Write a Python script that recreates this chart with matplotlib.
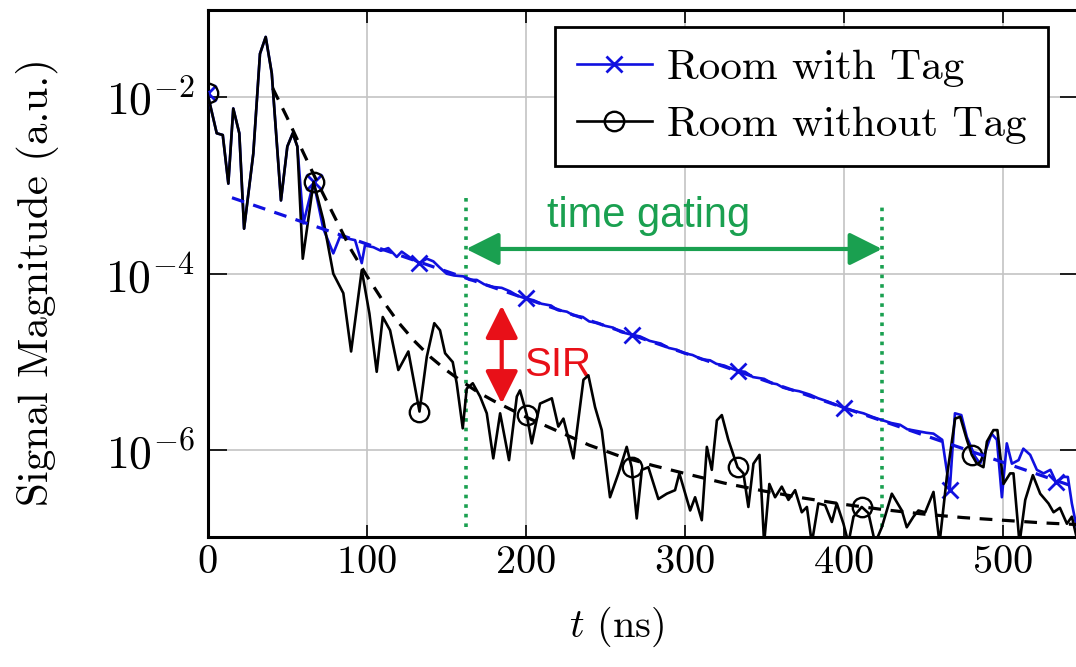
import numpy as np
import matplotlib
matplotlib.use('Agg')
import matplotlib.pyplot as plt
from matplotlib.ticker import FixedLocator, FuncFormatter, NullLocator
from matplotlib.patches import ArrowStyle

plt.rcParams['mathtext.fontset'] = 'cm'
plt.rcParams['font.family'] = ['cmr10', 'DejaVu Serif']
plt.rcParams['axes.formatter.use_mathtext'] = True

# ---------------- data (log10 of signal magnitude) ----------------
t_without = [0, 5.8, 9.6, 13.1, 16.2, 20, 23, 28.8, 33, 36.6, 40.4, 46.2, 50.2, 53.6, 56.5, 59.9,
             66.7, 72.8, 79.1, 85.4, 90.3, 97, 101.8, 106.4, 110.2, 114.8, 120, 126.3, 133.3,
             137.9, 142.6, 146.2, 149.4, 154.2, 156.7, 160.5, 163, 166.8, 171.4, 175.6, 179.7,
             184, 189.6, 194.5, 196.5, 200.8, 203.9, 209.1, 216.5, 220.6, 223.8, 230.1, 236.4,
             239.5, 243.7, 247.9, 253.1, 258.4, 263.6, 266.7, 269.9, 273.1, 277.2, 283.5, 288.8,
             294, 296.7, 303.5, 306.6, 310.8, 314, 317.1, 320.3, 323.4, 327.5, 333.3, 337, 340.1,
             343.3, 347.1, 350, 353.3, 356.9, 361.1, 365.3, 369.5, 373.7, 376.9, 380, 384.1,
             388.4, 392.6, 395.7, 399.9, 403, 406.2, 411.4, 415.6, 419.8, 424, 430.3, 436.6,
             439.7, 443.9, 447, 451.3, 456.5, 460.3, 464.9, 470.1, 473.3, 477.5, 480.6, 483.8,
             487.9, 490.1, 494.2, 496.7, 500.5, 504.7, 506.8, 510.6, 514.2, 519, 523.6, 528.8,
             532, 536, 540.4, 543.5, 548]
log_without = [-1.96, -2.41, -2.43, -2.98, -2.13, -2.41, -3.49, -2.64, -1.51, -1.32, -1.73, -3.17,
               -2.56, -2.41, -2.56, -3.83, -2.96, -3.39, -4.00, -4.22, -4.88, -3.96, -4.45, -5.11,
               -4.49, -4.64, -5.09, -4.88, -5.56, -4.94, -4.56, -4.64, -4.90, -5.00, -5.24, -5.75,
               -5.30, -5.24, -5.39, -5.58, -6.09, -5.58, -6.11, -5.39, -5.32, -5.60, -5.92, -5.47,
               -5.41, -5.73, -5.64, -6.09, -5.20, -5.15, -5.51, -5.77, -6.53, -6.26, -5.96, -6.19,
               -6.77, -6.22, -6.19, -6.55, -6.49, -6.45, -6.26, -6.68, -6.53, -6.79, -5.96, -6.22,
               -5.66, -5.60, -5.88, -6.19, -6.26, -6.64, -6.15, -6.05, -7.05, -6.38, -6.53, -6.41,
               -6.56, -6.45, -6.70, -6.64, -7.05, -6.60, -6.62, -6.81, -6.60, -6.83, -7.05, -6.75,
               -6.64, -6.71, -7.05, -6.87, -6.49, -6.68, -6.87, -6.75, -6.68, -6.70, -6.47, -7.05,
               -6.30, -5.64, -5.62, -5.88, -6.05, -6.15, -6.19, -5.90, -5.77, -5.77, -6.38, -6.26,
               -6.26, -7.05, -6.56, -6.28, -6.49, -6.60, -6.70, -6.65, -6.83, -6.75, -7.10]
marks_without = [0, 66.7, 133.3, 200.8, 266.7, 333.3, 411.4, 480.6]

t_with = [0, 5.8, 9.6, 13.1, 16.2, 20, 23, 28.8, 33, 36.6, 40.4, 46.2, 50.2, 53.6, 56.5, 60.3,
          66.7, 72.8, 79.1, 83.3, 87.5, 92.8, 97, 99, 104.3, 109, 113.7, 119, 122.1, 128.4,
          133.3, 137.9, 142, 146, 150.4, 155, 160.9, 165, 169.3, 174, 179.7, 185, 190.3, 195,
          200, 205, 210, 216, 220, 226, 230, 236, 240, 246, 250, 255, 260, 266.7, 272, 278,
          285, 290, 295, 300, 305, 311, 316, 320, 325, 333.3, 338, 343, 350, 355, 358, 362,
          366, 372, 379, 384, 389, 395, 400, 406, 412.5, 418, 423, 430, 435.5, 440, 446, 452,
          456.5, 462, 466.7, 470, 474, 477.5, 482.7, 485.8, 489, 493, 496.4, 499.5, 502.6,
          505.8, 510, 513, 517.3, 521.5, 525.7, 530, 533.6, 538.2, 541, 543.5, 548]
log_with = [-1.96, -2.41, -2.43, -2.98, -2.13, -2.41, -3.49, -2.64, -1.51, -1.32, -1.73, -3.17,
            -2.56, -2.41, -2.56, -3.43, -2.96, -3.49, -3.77, -3.58, -3.60, -3.62, -3.88, -3.68,
            -3.70, -3.74, -3.71, -3.81, -3.75, -3.83, -3.88, -3.83, -3.86, -3.93, -4.00, -4.02,
            -4.03, -4.07, -4.07, -4.12, -4.15, -4.16, -4.20, -4.25, -4.28, -4.30, -4.34, -4.36,
            -4.41, -4.43, -4.47, -4.49, -4.54, -4.56, -4.59, -4.61, -4.66, -4.69, -4.71, -4.76,
            -4.79, -4.84, -4.86, -4.90, -4.92, -4.97, -4.98, -5.02, -5.04, -5.10, -5.11, -5.17,
            -5.19, -5.24, -5.25, -5.29, -5.31, -5.33, -5.37, -5.41, -5.44, -5.48, -5.52, -5.55,
            -5.58, -5.62, -5.65, -5.69, -5.71, -5.76, -5.78, -5.80, -5.81, -5.88, -6.45, -5.58,
            -5.60, -5.85, -6.07, -6.15, -6.02, -5.81, -5.88, -6.53, -5.92, -6.15, -6.11, -5.98,
            -6.05, -6.22, -6.26, -6.22, -6.36, -6.30, -6.30, -6.60, -7.00]
marks_with = [0, 66.7, 133.3, 200, 266.7, 333.3, 400, 466.7, 533.6]

# fitted decay curves (dashed)
t_fit_with = [15.4, 548]
log_fit_with = [-3.14, -6.43]
t_fit_without = [41, 50, 60, 70, 80, 90, 100, 110, 120, 130, 140, 150, 160, 170, 180, 190, 200,
                 220, 240, 260, 280, 300, 325, 350, 375, 400, 425, 450, 475, 500, 525, 548]
log_fit_without = [-1.90, -2.23, -2.62, -3.00, -3.36, -3.72, -4.02, -4.30, -4.55, -4.76, -4.94,
                   -5.09, -5.22, -5.34, -5.44, -5.53, -5.62, -5.78, -5.94, -6.07, -6.17, -6.26,
                   -6.37, -6.46, -6.54, -6.61, -6.67, -6.72, -6.76, -6.79, -6.82, -6.84]

gate_start, gate_end = 162.6, 424.2
sir_t = 185

# ---------------- figure ----------------
W, H = 1076, 667
fig = plt.figure(figsize=(W / 100, H / 100), dpi=100)
x0, x1, y0, y1 = 207.5, 1079, 537, 10
ax = fig.add_axes([x0 / W, 1 - y0 / H, (x1 - x0) / W, (y0 - y1) / H])

blue = '#1010e0'
green = '#1aa050'
red = '#e81018'

def idx(ts, marks):
    ts = np.asarray(ts)
    return [int(np.argmin(np.abs(ts - m))) for m in marks]

ax.plot(t_with, 10 ** np.array(log_with), color=blue, lw=1.9, marker='x', ms=11, mew=2,
        markevery=idx(t_with, marks_with), label='Room with Tag', zorder=3)
ax.plot(t_without, 10 ** np.array(log_without), color='black', lw=1.9, marker='o', ms=14,
        mfc='none', mew=1.7, markevery=idx(t_without, marks_without), label='Room without Tag',
        zorder=4)
ax.plot(t_fit_with, 10 ** np.array(log_fit_with), color=blue, lw=2.3, ls=(0, (4, 3)), zorder=5)
ax.plot(t_fit_without, 10 ** np.array(log_fit_without), color='black', lw=2.3, ls=(0, (4, 3)),
        zorder=5)

ax.set_yscale('log')
ax.set_xlim(0, 548)
ax.set_ylim(10 ** -6.98, 10 ** -1.015)

ax.xaxis.set_major_locator(FixedLocator([0, 100, 200, 300, 400, 500]))
ax.xaxis.set_major_formatter(FuncFormatter(lambda v, p: r'$%d$' % v))
ax.yaxis.set_major_locator(FixedLocator([1e-6, 1e-4, 1e-2]))
ax.yaxis.set_major_formatter(FuncFormatter(lambda v, p: r'$10^{%d}$' % round(np.log10(v))))
ax.yaxis.set_minor_locator(NullLocator())
ax.xaxis.set_minor_locator(NullLocator())

ax.tick_params(axis='x', direction='in', length=9, width=1.2, labelsize=29, pad=6, top=True)
ax.tick_params(axis='y', direction='in', length=14, width=1.2, labelsize=33, pad=9, right=True)
ax.grid(True, which='major', color='#c4c4c4', lw=1.2)
ax.set_axisbelow(True)
for s in ax.spines.values():
    s.set_linewidth(2.2)
ax.spines['right'].set_visible(False)

ax.set_ylabel('Signal Magnitude (a.u.)', fontsize=31, va='center')
ax.yaxis.set_label_coords((38 - x0) / (x1 - x0), (y0 - 282) / (y0 - y1))
ax.set_xlabel(r'$t$ (ns)', fontsize=29, va='center')
ax.xaxis.set_label_coords((617 - x0) / (x1 - x0), (y0 - 627) / (y0 - y1))

# time gating annotation
ax.plot([gate_start, gate_start], [10 ** -6.87, 10 ** -3.13], color=green, ls=':', lw=2.6)
ax.plot([gate_end, gate_end], [10 ** -6.87, 10 ** -3.20], color=green, ls=':', lw=2.6)
ax.annotate('', xy=(gate_start, 10 ** -3.72), xytext=(gate_end, 10 ** -3.72),
            arrowprops=dict(arrowstyle=ArrowStyle('<|-|>', head_length=0.4, head_width=0.2),
                            color=green, lw=3, mutation_scale=50, shrinkA=0, shrinkB=0))
ax.text(277.5, 10 ** -3.35, 'time gating', color=green, fontsize=30,
        family=['Liberation Sans', 'DejaVu Sans'], ha='center', va='center')

# SIR annotation
ax.annotate('', xy=(sir_t, 10 ** -4.36), xytext=(sir_t, 10 ** -5.47),
            arrowprops=dict(arrowstyle=ArrowStyle('<|-|>', head_length=0.4, head_width=0.2),
                            color=red, lw=3, mutation_scale=50, shrinkA=0, shrinkB=0))
ax.text(220, 10 ** -5.03, 'SIR', color=red, fontsize=29,
        family=['Liberation Sans', 'DejaVu Sans'], ha='center', va='center')

leg = ax.legend(loc='upper right', bbox_to_anchor=(1048 / W, 1 - 27 / H),
                bbox_transform=fig.transFigure, borderaxespad=0, fontsize=31,
                fancybox=False, framealpha=1, edgecolor='black', handlelength=1.75,
                handletextpad=0.35, labelspacing=0.45, borderpad=0.5)
leg.get_frame().set_linewidth(2)
leg.set_zorder(10)

fig.savefig('out.png', dpi=100)
